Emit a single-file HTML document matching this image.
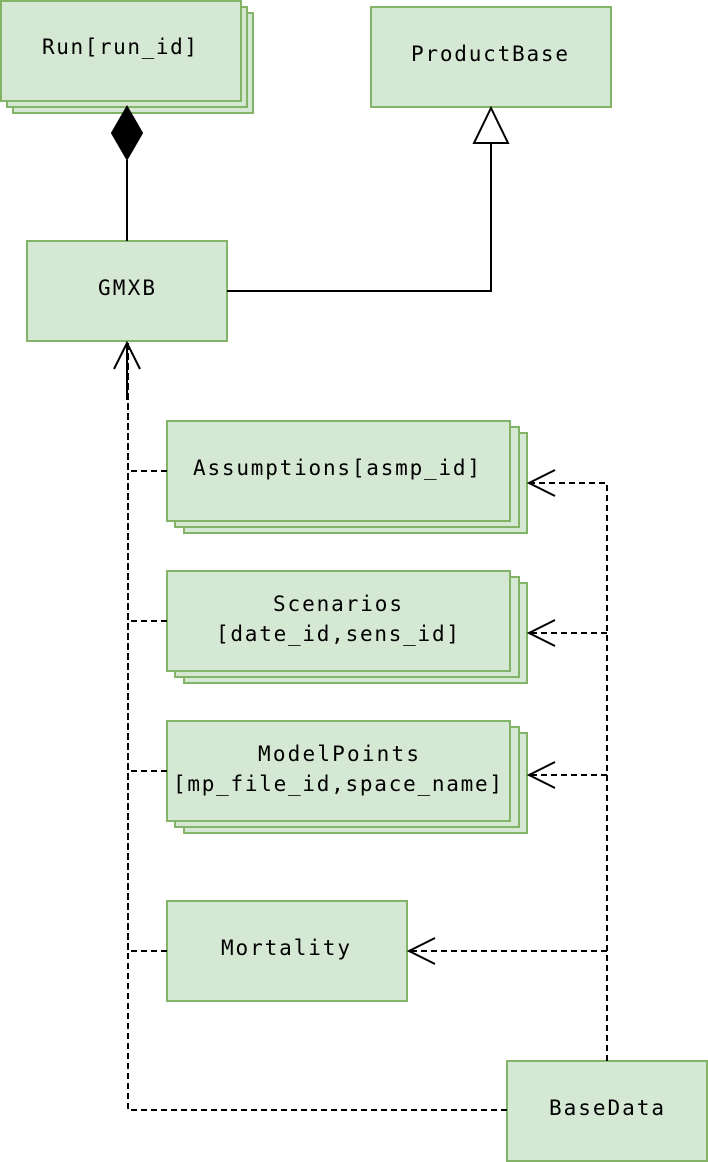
<!DOCTYPE html>
<html><head><style>
html,body{margin:0;padding:0;background:#fff;}
svg{display:block;}
</style></head><body>
<svg width="708" height="1162" viewBox="0 0 708 1162" xmlns="http://www.w3.org/2000/svg">
<g fill="#d5e8d4" stroke="#82b366" stroke-width="2">
<rect x="13" y="13" width="240" height="100"/>
<rect x="7" y="7" width="240" height="100"/>
<rect x="1" y="1" width="240" height="100"/>
<rect x="371" y="7" width="240" height="100"/>
<rect x="27" y="241" width="200" height="100"/>
<rect x="184" y="433" width="343" height="100"/>
<rect x="175" y="427" width="344" height="100"/>
<rect x="167" y="421" width="343" height="100"/>
<rect x="184" y="583" width="343" height="100"/>
<rect x="175" y="577" width="344" height="100"/>
<rect x="167" y="571" width="343" height="100"/>
<rect x="184" y="733" width="343" height="100"/>
<rect x="175" y="727" width="344" height="100"/>
<rect x="167" y="721" width="343" height="100"/>
<rect x="167" y="901" width="240" height="100"/>
<rect x="507" y="1061" width="200" height="100"/>
</g>
<g font-family="DejaVu Sans Mono, Liberation Mono, monospace" font-size="21" fill="#000">
<text x="42" y="54" textLength="155" lengthAdjust="spacing">Run[run_id]</text>
<text x="411" y="61" textLength="157" lengthAdjust="spacing">ProductBase</text>
<text x="98" y="295" textLength="57" lengthAdjust="spacing">GMXB</text>
<text x="193" y="475" textLength="287" lengthAdjust="spacing">Assumptions[asmp_id]</text>
<text x="273" y="611" textLength="129" lengthAdjust="spacing">Scenarios</text>
<text x="216" y="641" textLength="243" lengthAdjust="spacing">[date_id,sens_id]</text>
<text x="258" y="761" textLength="161" lengthAdjust="spacing">ModelPoints</text>
<text x="173" y="791" textLength="329" lengthAdjust="spacing">[mp_file_id,space_name]</text>
<text x="221" y="955" textLength="129" lengthAdjust="spacing">Mortality</text>
<text x="549" y="1115" textLength="115" lengthAdjust="spacing">BaseData</text>
</g>
<g stroke="#000" stroke-width="2" fill="none">
<line x1="127" y1="241" x2="127" y2="160"/>
<polygon points="127,107 142,133 127,159 112,133" fill="#000"/>
<polyline points="227,291 491,291 491,143"/>
<polygon points="491,108 508,143 474,143" fill="#fff"/>
</g>
<g stroke="#000" stroke-width="2" fill="none" stroke-dasharray="6,4">
<polyline points="167,471 128,471 128,343"/>
<polyline points="167,621 128,621 128,343"/>
<polyline points="167,771 128,771 128,343"/>
<polyline points="167,951 128,951 128,343"/>
<polyline points="507,1110 128,1110 128,343"/>
<polyline points="607,1061 607,483 529,483"/>
<polyline points="607,633 529,633"/>
<polyline points="607,775 529,775"/>
<polyline points="607,951 409,951"/>
</g>
<g stroke="#000" stroke-width="2" fill="none">
<line x1="127" y1="343" x2="127" y2="400"/>
<polyline points="114,369 127,343 140,369"/>
<polyline points="555,470 529,483 555,496"/>
<polyline points="555,620 529,633 555,646"/>
<polyline points="555,762 529,775 555,788"/>
<polyline points="435,938 409,951 435,964"/>
</g>
</svg>
</body></html>
